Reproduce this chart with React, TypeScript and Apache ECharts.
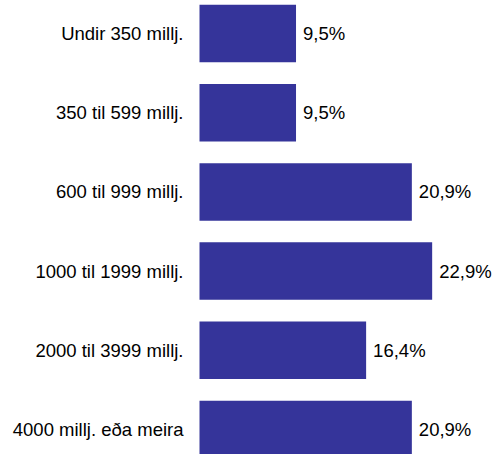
import React, { useEffect, useRef } from "react";
import * as echarts from "echarts";

const categories = [
  "Undir 350 millj.",
  "350 til 599 millj.",
  "600 til 999 millj.",
  "1000 til 1999 millj.",
  "2000 til 3999 millj.",
  "4000 millj. eða meira",
];
const values = [9.5, 9.5, 20.9, 22.9, 16.4, 20.9];

const FONT = "'Liberation Sans', Arial, sans-serif";

export default function App() {
  const ref = useRef<HTMLDivElement>(null);
  useEffect(() => {
    if (!ref.current) return;
    const chart = echarts.init(ref.current, undefined, { renderer: "svg" });
    chart.setOption({
      animation: false,
      grid: { left: 199.5, width: 254, top: -6, height: 475, outerBoundsMode: "none", containLabel: false },
      xAxis: {
        type: "value",
        min: 0,
        max: 25,
        show: false,
      },
      yAxis: {
        type: "category",
        data: categories,
        inverse: true,
        axisLine: { show: false },
        axisTick: { show: false },
        axisLabel: {
          margin: 16,
          color: "#000",
          fontSize: 18.5,
          fontFamily: FONT,
        },
      },
      series: [
        {
          type: "bar",
          data: values,
          barCategoryGap: "27.4%",
          itemStyle: { color: "#35349A" },
          label: {
            show: true,
            position: "right",
            distance: 7,
            color: "#000",
            fontSize: 18.5,
            fontFamily: FONT,
            formatter: (p: any) => String(p.value.toFixed(1)).replace(".", ",") + "%",
          },
        },
      ],
    });
    return () => chart.dispose();
  }, []);
  return <div ref={ref} style={{ width: 493, height: 454, position: "absolute", left: 0, top: 0 }} />;
}
